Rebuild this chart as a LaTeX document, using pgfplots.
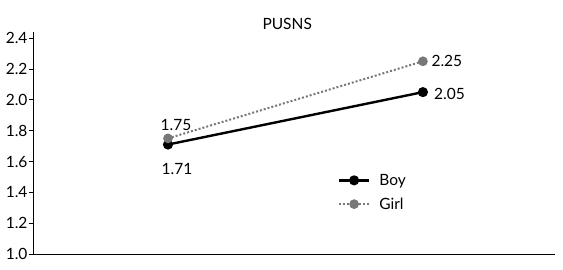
\documentclass[border=0pt]{standalone}
\usepackage{pgfplots}
\pgfplotsset{compat=1.18}
\usepackage{fontspec}
\setmainfont{Lato}
\definecolor{girlgray}{HTML}{787878}
\begin{document}
\begin{tikzpicture}[x=1pt,y=1pt]
\path[use as bounding box] (-34,-15) rectangle (529,254);
\begin{axis}[
  at={(0,0)}, anchor=south west,
  scale only axis, width=521pt, height=222pt,
  xmin=0.4745, xmax=2.518, ymin=1.0, ymax=2.44,
  axis x line=bottom, axis y line=left,
  axis line style={-, line width=1pt},
  xtick=\empty,
  ytick={1.0,1.2,1.4,1.6,1.8,2.0,2.2,2.4},
  yticklabel style={/pgf/number format/fixed, /pgf/number format/fixed zerofill, /pgf/number format/precision=1, xshift=2pt},
  /pgf/number format/assume math mode=true,
  tick align=outside, major tick length=5pt,
  tick style={line width=0.9pt, black},
  ticklabel style={font=\fontsize{15.5}{17}\selectfont},
  title={PUSNS}, title style={font=\fontsize{15.5}{17}\selectfont, at={(0.486,1)}, anchor=base, yshift=-3pt},
  clip=false,
  legend style={draw=none, fill=none, at={(0.583,0.37)}, anchor=north west, inner sep=0pt,
    font=\fontsize{15.5}{17}\selectfont, row sep=7pt,
    /tikz/every odd column/.style={column sep=7pt}},
  legend cell align=left,
  legend image code/.code={\draw[mark repeat=2,mark phase=2] plot coordinates {(0pt,0pt) (15pt,0pt) (30pt,0pt)};},
]
\addplot[black, line width=2.4pt, mark=*, mark size=3.8pt]
  coordinates {(1,1.71) (2,2.05)};
\addlegendentry{Boy}
\addplot[girlgray, line width=2pt, dotted, mark=*, mark size=3.8pt, mark options={solid}]
  coordinates {(1,1.75) (2,2.25)};
\addlegendentry{Girl}
\node[font=\fontsize{15.5}{17}\selectfont, anchor=south] at ([xshift=8pt]axis cs:1,1.78) {1.75};
\node[font=\fontsize{15.5}{17}\selectfont, anchor=north] at ([xshift=9pt]axis cs:1,1.61) {1.71};
\node[font=\fontsize{15.5}{17}\selectfont, anchor=west] at (axis cs:2.02,2.255) {2.25};
\node[font=\fontsize{15.5}{17}\selectfont, anchor=west] at (axis cs:2.03,2.04) {2.05};
\end{axis}
\end{tikzpicture}
\end{document}
